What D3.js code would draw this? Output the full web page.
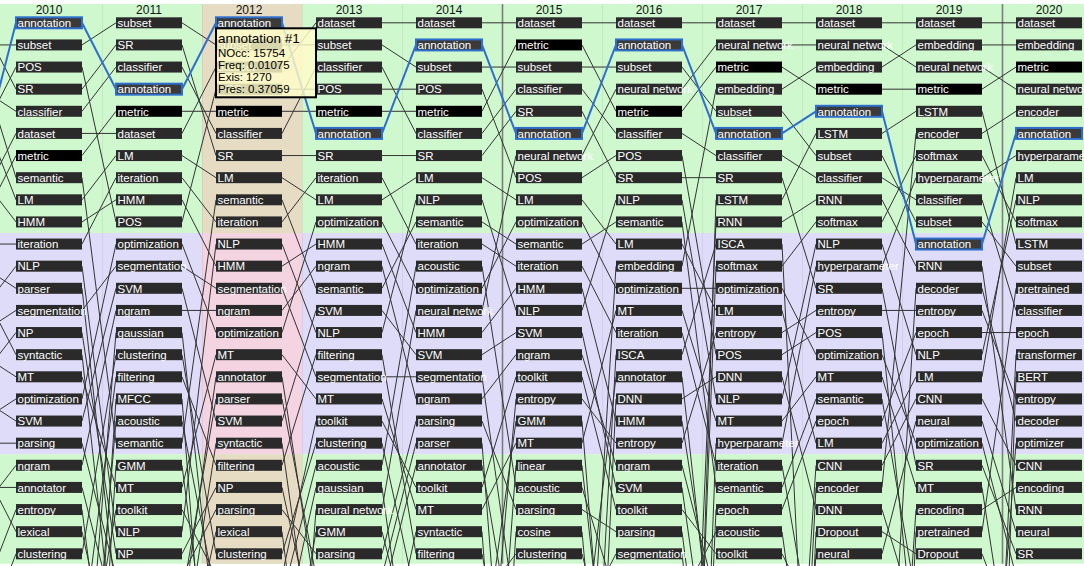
<!DOCTYPE html>
<html lang="en">
<head>
<meta charset="UTF-8">
<title>Term ranks 2010-2020</title>
<script src="https://d3js.org/d3.v7.min.js"></script>
<style>
    body { margin: 0; background: #fff; }
    svg { display: block; font-family: "Liberation Sans", Arial, Helvetica, sans-serif; }
</style>
</head>
<body>
<div id="chart"></div>
<script>
    // top 25 terms per year, rank 1 first
    const years = [2010, 2011, 2012, 2013, 2014, 2015, 2016, 2017, 2018, 2019, 2020];

    const terms2010 = ['annotation', 'subset', 'POS', 'SR', 'classifier', 'dataset', 'metric', 'semantic', 'LM', 'HMM',
        'iteration', 'NLP', 'parser', 'segmentation', 'NP', 'syntactic', 'MT', 'optimization', 'SVM', 'parsing',
        'ngram', 'annotator', 'entropy', 'lexical', 'clustering'];
    const terms2011 = ['subset', 'SR', 'classifier', 'annotation', 'metric', 'dataset', 'LM', 'iteration', 'HMM', 'POS',
        'optimization', 'segmentation', 'SVM', 'ngram', 'gaussian', 'clustering', 'filtering', 'MFCC', 'acoustic', 'semantic',
        'GMM', 'MT', 'toolkit', 'NLP', 'NP'];
    const terms2012 = ['annotation', 'subset', 'dataset', 'POS', 'metric', 'classifier', 'SR', 'LM', 'semantic', 'iteration',
        'NLP', 'HMM', 'segmentation', 'ngram', 'optimization', 'MT', 'annotator', 'parser', 'SVM', 'syntactic',
        'filtering', 'NP', 'parsing', 'lexical', 'clustering'];
    const terms2013 = ['dataset', 'subset', 'classifier', 'POS', 'metric', 'annotation', 'SR', 'iteration', 'LM', 'optimization',
        'HMM', 'ngram', 'semantic', 'SVM', 'NLP', 'filtering', 'segmentation', 'MT', 'toolkit', 'clustering',
        'acoustic', 'gaussian', 'neural network', 'GMM', 'parsing'];
    const terms2014 = ['dataset', 'annotation', 'subset', 'POS', 'metric', 'classifier', 'SR', 'LM', 'NLP', 'semantic',
        'iteration', 'acoustic', 'optimization', 'neural network', 'HMM', 'SVM', 'segmentation', 'ngram', 'parsing', 'parser',
        'annotator', 'toolkit', 'MT', 'syntactic', 'filtering'];
    const terms2015 = ['dataset', 'metric', 'subset', 'classifier', 'SR', 'annotation', 'neural network', 'POS', 'LM', 'optimization',
        'semantic', 'iteration', 'HMM', 'NLP', 'SVM', 'ngram', 'toolkit', 'entropy', 'GMM', 'MT',
        'linear', 'acoustic', 'parsing', 'cosine', 'clustering'];
    const terms2016 = ['dataset', 'annotation', 'subset', 'neural network', 'metric', 'classifier', 'POS', 'SR', 'NLP', 'semantic',
        'LM', 'embedding', 'optimization', 'MT', 'iteration', 'ISCA', 'annotator', 'DNN', 'HMM', 'entropy',
        'ngram', 'SVM', 'toolkit', 'parsing', 'segmentation'];
    const terms2017 = ['dataset', 'neural network', 'metric', 'embedding', 'subset', 'annotation', 'classifier', 'SR', 'LSTM', 'RNN',
        'ISCA', 'softmax', 'optimization', 'LM', 'entropy', 'POS', 'DNN', 'NLP', 'MT', 'hyperparameter',
        'iteration', 'semantic', 'epoch', 'acoustic', 'toolkit'];
    const terms2018 = ['dataset', 'neural network', 'embedding', 'metric', 'annotation', 'LSTM', 'subset', 'classifier', 'RNN', 'softmax',
        'NLP', 'hyperparameter', 'SR', 'entropy', 'POS', 'optimization', 'MT', 'semantic', 'epoch', 'LM',
        'CNN', 'encoder', 'DNN', 'Dropout', 'neural'];
    const terms2019 = ['dataset', 'embedding', 'neural network', 'metric', 'LSTM', 'encoder', 'softmax', 'hyperparameter', 'classifier', 'subset',
        'annotation', 'RNN', 'decoder', 'entropy', 'epoch', 'NLP', 'LM', 'CNN', 'neural', 'optimization',
        'SR', 'MT', 'encoding', 'pretrained', 'Dropout'];
    const terms2020 = ['dataset', 'embedding', 'metric', 'neural network', 'encoder', 'annotation', 'hyperparameter', 'LM', 'NLP', 'softmax',
        'LSTM', 'subset', 'pretrained', 'classifier', 'epoch', 'transformer', 'BERT', 'entropy', 'decoder', 'optimizer',
        'CNN', 'encoding', 'RNN', 'neural', 'SR'];

    // ranks of the previous year (off screen on the left)
    const ranks2009 = {SR: 1, subset: 2, semantic: 3, classifier: 4, LM: 5, POS: 6, annotation: 7, HMM: 8, dataset: 9,
        metric: 10, iteration: 11, parser: 12, syntactic: 13, NLP: 14, segmentation: 15, MT: 16, NP: 17, SVM: 18,
        optimization: 19, parsing: 20, lexical: 21, annotator: 22, ngram: 23, entropy: 27, clustering: 29};

    // ranks below the visible 25 (lines leaving / entering at the bottom)
    const hidden2010 = {gaussian: 34, filtering: 29, MFCC: 41, acoustic: 37, GMM: 45, toolkit: 32};
    const hidden2011 = {parser: 27, syntactic: 30, parsing: 26, annotator: 28, entropy: 35, lexical: 31};
    const hidden2012 = {gaussian: 29, MFCC: 38, acoustic: 27, GMM: 33, toolkit: 26, 'neural network': 44};
    const hidden2013 = {annotator: 27, parser: 26, syntactic: 31, NP: 29, lexical: 36};
    const hidden2014 = {clustering: 27, gaussian: 33, GMM: 30, entropy: 35, linear: 42, cosine: 48};
    const hidden2015 = {segmentation: 28, parser: 40, annotator: 30, syntactic: 45, filtering: 33, embedding: 37, ISCA: 43, DNN: 50};
    const hidden2016 = {GMM: 38, linear: 35, acoustic: 27, cosine: 41, clustering: 31, LSTM: 55, RNN: 46, softmax: 52,
        hyperparameter: 60, epoch: 58};
    const hidden2017 = {annotator: 31, HMM: 29, ngram: 27, SVM: 33, parsing: 36, segmentation: 39, CNN: 44, encoder: 52,
        Dropout: 58, neural: 48};
    const hidden2018 = {ISCA: 42, iteration: 30, acoustic: 35, toolkit: 28, decoder: 38, encoding: 46, pretrained: 55};
    const hidden2019 = {POS: 30, semantic: 27, DNN: 28, transformer: 48, BERT: 60, optimizer: 40};
    const hidden2020 = {optimization: 26, MT: 32, Dropout: 29};

    const selectedTerm = 'annotation';
    const darkTerm = 'metric';
    const highlightYear = 2012;
    const tipTitle = 'annotation #1';
    const tipLines = ['NOcc: 15754', 'Freq: 0.01075', 'Exis: 1270', 'Pres: 0.37059'];

    const visible = [terms2010, terms2011, terms2012, terms2013, terms2014, terms2015, terms2016, terms2017, terms2018, terms2019, terms2020];
    const hidden = [hidden2010, hidden2011, hidden2012, hidden2013, hidden2014, hidden2015, hidden2016, hidden2017, hidden2018, hidden2019, hidden2020];

    // rank lookup: year -> term -> rank
    const rankByYear = new Map();
    rankByYear.set(2009, new Map(Object.entries(ranks2009)));
    years.forEach((yr, i) => {
        const m = new Map(Object.entries(hidden[i]));
        visible[i].forEach((t, r) => m.set(t, r + 1));
        rankByYear.set(yr, m);
    });

    const width = 1084, height = 566;
    const boxW = 66, boxH = 11;

    const x = d3.scaleLinear().domain([2010, 2020]).range([16, 1016]);   // left edge of boxes
    const y = d3.scaleLinear().domain([1, 25]).range([22.8, 553.8]);     // centre of a row

    const svg = d3.select('#chart')
        .append('svg')
        .attr('width', width)
        .attr('height', height);

    // horizontal bands: rank 1-10, 11-20, 21-25
    const bands = [
        {from: 0.5, to: 10.5, fill: '#cff8cf', col: '#e6dcc4'},
        {from: 10.5, to: 20.5, fill: '#dedcf8', col: '#f3d4e0'},
        {from: 20.5, to: 25.45, fill: '#cff8cf', col: '#e6dcc4'}
    ];
    const bandTop = d => d.from === 0.5 ? 4 : y(d.from);

    svg.append('g')
        .selectAll('rect')
        .data(bands)
        .join('rect')
        .attr('x', 0)
        .attr('y', bandTop)
        .attr('width', width)
        .attr('height', d => y(d.to) - bandTop(d))
        .attr('fill', d => d.fill);

    // highlighted year column
    svg.append('g')
        .selectAll('rect')
        .data(bands)
        .join('rect')
        .attr('x', x(highlightYear) - 14)
        .attr('y', bandTop)
        .attr('width', 100)
        .attr('height', d => y(d.to) - bandTop(d))
        .attr('fill', d => d.col);

    // column separators
    svg.append('g')
        .selectAll('line')
        .data(years.slice(1))
        .join('line')
        .attr('x1', d => x(d) - 13.5)
        .attr('x2', d => x(d) - 13.5)
        .attr('y1', 4)
        .attr('y2', y(25.45))
        .attr('stroke', d => d % 5 === 0 ? '#7d7d7d' : 'rgba(0,0,0,0.06)')
        .attr('stroke-width', d => d % 5 === 0 ? 1.6 : 1);

    // links between consecutive years
    const links = [];
    [2009].concat(years.slice(0, -1)).forEach(yr => {
        const a = rankByYear.get(yr), b = rankByYear.get(yr + 1);
        const shown = new Set(visible[years.indexOf(yr + 1)].concat(yr >= 2010 ? visible[years.indexOf(yr)] : []));
        shown.forEach(t => {
            if (a.has(t) && b.has(t)) {
                links.push({term: t, year: yr, r1: a.get(t), r2: b.get(t)});
            }
        });
    });

    const linkLine = d => `M${x(d.year) + boxW},${y(d.r1)}L${x(d.year + 1)},${y(d.r2)}`;

    svg.append('g')
        .selectAll('path')
        .data(links.filter(d => d.term !== selectedTerm))
        .join('path')
        .attr('d', linkLine)
        .attr('fill', 'none')
        .attr('stroke', '#333')
        .attr('stroke-width', 1);

    svg.append('g')
        .selectAll('path')
        .data(links.filter(d => d.term === selectedTerm))
        .join('path')
        .attr('d', linkLine)
        .attr('fill', 'none')
        .attr('stroke', '#2f6fcc')
        .attr('stroke-width', 2);

    // year labels
    svg.append('g')
        .selectAll('text')
        .data(years)
        .join('text')
        .attr('x', d => x(d) + boxW / 2)
        .attr('y', 14)
        .attr('text-anchor', 'middle')
        .attr('font-size', 12)
        .attr('fill', '#111')
        .text(d => d);

    // term boxes
    const cells = years.flatMap((yr, i) => visible[i].map((t, r) => ({year: yr, term: t, rank: r + 1})));

    const cell = svg.append('g')
        .selectAll('g')
        .data(cells)
        .join('g')
        .attr('transform', d => `translate(${x(d.year)},${y(d.rank) - boxH / 2})`);

    cell.append('rect')
        .attr('width', boxW)
        .attr('height', boxH)
        .attr('fill', d => d.term === darkTerm ? '#000' : (d.term === selectedTerm ? '#3a3a3a' : '#2a2a2a'))
        .attr('stroke', d => d.term === selectedTerm ? '#2f6fcc' : 'none')
        .attr('stroke-width', 2);

    cell.append('text')
        .attr('x', 1.5)
        .attr('y', 9.8)
        .attr('font-size', 11.5)
        .attr('fill', '#fff')
        .text(d => d.term);

    // tooltip on the selected cell
    const tip = svg.append('g')
        .attr('transform', `translate(${x(highlightYear)},${y(1) + 5.5})`);

    tip.append('rect')
        .attr('width', 100)
        .attr('height', 69)
        .attr('fill', 'rgba(255,252,200,0.82)')
        .attr('stroke', '#000')
        .attr('stroke-width', 2);

    tip.append('text')
        .attr('x', 2)
        .attr('y', 15)
        .attr('font-size', 13.5)
        .attr('fill', '#000')
        .text(tipTitle);

    tip.selectAll('.tip-line')
        .data(tipLines)
        .join('text')
        .attr('class', 'tip-line')
        .attr('x', 2)
        .attr('y', (d, i) => 29 + i * 12)
        .attr('font-size', 11.5)
        .attr('fill', '#000')
        .text(d => d);
</script>
</body>
</html>
